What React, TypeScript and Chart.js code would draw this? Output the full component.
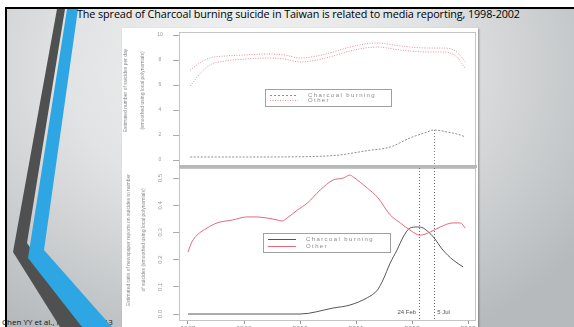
import React, { useEffect, useRef } from "react";
import { Chart, registerables } from "chart.js";
Chart.register(...registerables);

// ---------- data ----------
const xMin = 1997.84;
const xMax = 2003.14;
const yearTicks = [1998, 1999, 2000, 2001, 2002, 2003];

const upperYTicks = [0, 2, 4, 6, 8, 10];
const upperYLabels = ["0", "2", "4", "6", "8", "10"];
const lowerYTicks = [0, 0.1, 0.2, 0.3, 0.4, 0.5];
const lowerYLabels = ["0.0", "0.1", "0.2", "0.3", "0.4", "0.5"];

// upper panel: estimated suicides per day
const otherUpperYears = [1998.04, 1998.21, 1998.39, 1998.66, 1999.02, 1999.41, 1999.73, 2000.0, 2000.3, 2000.59, 2000.89, 2001.38, 2001.79, 2002.27, 2002.55, 2002.8, 2002.95];
const otherUpperHi = [7.2, 7.76, 8.16, 8.32, 8.4, 8.48, 8.4, 8.16, 8.32, 8.64, 9.04, 9.36, 9.12, 8.96, 8.96, 8.64, 7.84];
const otherUpperLo = [5.92, 6.88, 7.6, 7.92, 8.08, 8.16, 8.08, 7.84, 8.0, 8.32, 8.72, 9.04, 8.8, 8.64, 8.64, 8.24, 7.28];

const charcoalUpperYears = [1998.04, 1999.11, 2000.0, 2000.71, 2000.89, 2001.2, 2001.61, 2001.96, 2002.27, 2002.38, 2002.63, 2002.86, 2002.95];
const charcoalUpper = [0.24, 0.24, 0.26, 0.4, 0.52, 0.75, 1.04, 1.76, 2.24, 2.4, 2.24, 2.0, 1.84];

// lower panel: ratio of newspaper reports to suicides
const charcoalLowerYears = [1998.0, 2000.0, 2000.59, 2000.89, 2001.2, 2001.38, 2001.48, 2001.61, 2001.73, 2001.84, 2001.96, 2002.09, 2002.2, 2002.38, 2002.55, 2002.73, 2002.91];
const charcoalLower = [0, 0, 0.022, 0.033, 0.06, 0.088, 0.125, 0.188, 0.235, 0.283, 0.316, 0.32, 0.316, 0.283, 0.235, 0.199, 0.173];

const otherLowerYears = [1998.0, 1998.07, 1998.16, 1998.34, 1998.52, 1998.8, 1999.05, 1999.23, 1999.41, 1999.59, 1999.68, 1999.77, 1999.95, 2000.13, 2000.36, 2000.59, 2000.77, 2000.89, 2000.95, 2001.2, 2001.38, 2001.61, 2001.79, 2001.96, 2002.14, 2002.32, 2002.5, 2002.73, 2002.86, 2002.95];
const otherLower = [0.228, 0.265, 0.29, 0.316, 0.335, 0.346, 0.357, 0.357, 0.353, 0.346, 0.342, 0.353, 0.382, 0.408, 0.456, 0.493, 0.5, 0.511, 0.504, 0.463, 0.43, 0.364, 0.335, 0.309, 0.29, 0.301, 0.32, 0.335, 0.335, 0.316];

const markerFeb24 = 2002.125;
const markerJul5 = 2002.393;
const markerLabels = ["24 Feb", "5 Jul"];
const legendLabels = ["Charcoal burning", "Other"];

const upperTitle = ["Estimated number of suicides per day", "(smoothed using local polynomials)"];
const lowerTitle = ["Estimated ratio of newspaper reports on suicides to number", "of suicides (smoothed using local polynomials)"];

const pts = (xs: number[], ys: number[]) => xs.map((x, i) => ({ x, y: ys[i] }));

const PINK = "#e48e9b";
const RED = "#e26a7c";
const GREY = "#8e8e8e";
const DARK = "#555555";

function drawLegend(ctx: any, x0: number, y0: number, w: number, h: number, entries: any[]) {
  ctx.save();
  ctx.fillStyle = "#ffffff";
  ctx.fillRect(x0, y0, w, h);
  ctx.strokeStyle = "#a0a0a0";
  ctx.lineWidth = 1;
  ctx.setLineDash([]);
  ctx.strokeRect(x0 + 0.5, y0 + 0.5, w, h);
  ctx.font = "6px 'Liberation Sans'";
  (ctx as any).letterSpacing = "1.4px";
  ctx.textBaseline = "middle";
  entries.forEach((e) => {
    ctx.strokeStyle = e.color;
    ctx.setLineDash(e.dash);
    ctx.beginPath();
    ctx.moveTo(x0 + 5, e.y + 0.5);
    ctx.lineTo(x0 + 33, e.y + 0.5);
    ctx.stroke();
    ctx.fillStyle = "#8a8a8a";
    ctx.fillText(e.label, x0 + 43, e.y + 0.5);
  });
  ctx.restore();
}

function drawYTitle(ctx: any, lines: string[], xs: number[], cy: number) {
  ctx.save();
  ctx.font = "5px 'Liberation Sans'";
  ctx.fillStyle = "#8a8a8a";
  ctx.textAlign = "center";
  ctx.textBaseline = "middle";
  lines.forEach((l, i) => {
    ctx.save();
    ctx.translate(xs[i], cy);
    ctx.rotate(-Math.PI / 2);
    ctx.fillText(l, 0, 0);
    ctx.restore();
  });
  ctx.restore();
}

const upperPlugin = {
  id: "upperDecor",
  afterDraw(chart: any) {
    const { ctx, chartArea: a, scales } = chart;
    const y = scales.y;
    const x = scales.x;
    ctx.save();
    ctx.strokeStyle = "#c4c4c4";
    ctx.lineWidth = 1;
    ctx.strokeRect(a.left + 0.5, a.top + 0.5, a.right - a.left - 1, a.bottom - a.top);
    ctx.font = "5px 'Liberation Sans'";
    ctx.fillStyle = "#999";
    ctx.textAlign = "center";
    ctx.textBaseline = "middle";
    upperYTicks.forEach((v, i) => ctx.fillText(upperYLabels[i], a.left - 19, y.getPixelForValue(v)));
    const mx = Math.round(x.getPixelForValue(markerJul5)) + 0.5;
    ctx.strokeStyle = "#8a8a8a";
    ctx.setLineDash([1, 2]);
    ctx.beginPath();
    ctx.moveTo(mx, y.getPixelForValue(2.4));
    ctx.lineTo(mx, a.bottom);
    ctx.stroke();
    ctx.restore();
    drawYTitle(ctx, upperTitle, [4, 21], (a.top + a.bottom) / 2 - 8);
    drawLegend(ctx, a.left + 86, a.top + 57, 126, 17, [
      { label: legendLabels[0], color: GREY, dash: [2, 2], y: a.top + 63 },
      { label: legendLabels[1], color: PINK, dash: [1, 1.5], y: a.top + 68 },
    ]);
  },
};

const lowerPlugin = {
  id: "lowerDecor",
  afterDraw(chart: any) {
    const { ctx, chartArea: a, scales } = chart;
    const y = scales.y;
    const x = scales.x;
    ctx.save();
    ctx.strokeStyle = "#c4c4c4";
    ctx.lineWidth = 1;
    ctx.strokeRect(a.left + 0.5, a.top + 0.5, a.right - a.left - 1, a.bottom - a.top);
    ctx.font = "6px 'Liberation Sans'";
    ctx.fillStyle = "#999";
    ctx.textAlign = "center";
    ctx.textBaseline = "middle";
    lowerYTicks.forEach((v, i) => {
      ctx.save();
      ctx.translate(a.left - 19, y.getPixelForValue(v));
      ctx.rotate(-Math.PI / 2);
      ctx.fillText(lowerYLabels[i], 0, 0);
      ctx.restore();
    });
    ctx.strokeStyle = "#6a6a6a";
    ctx.setLineDash([1, 2]);
    [markerFeb24, markerJul5].forEach((m) => {
      const mx = Math.round(x.getPixelForValue(m)) + 0.5;
      ctx.beginPath();
      ctx.moveTo(mx, a.top);
      ctx.lineTo(mx, a.bottom);
      ctx.stroke();
    });
    ctx.setLineDash([]);
    ctx.font = "6px 'Liberation Sans'";
    ctx.fillStyle = "#555";
    ctx.textAlign = "right";
    ctx.fillText(markerLabels[0], x.getPixelForValue(markerFeb24) - 3, a.bottom - 8);
    ctx.textAlign = "left";
    ctx.fillText(markerLabels[1], x.getPixelForValue(markerJul5) + 3, a.bottom - 8);
    ctx.restore();
    drawYTitle(ctx, lowerTitle, [7, 22], (a.top + a.bottom) / 2 - 4);
    drawLegend(ctx, a.left + 84, a.top + 65, 127, 19, [
      { label: legendLabels[0], color: DARK, dash: [], y: a.top + 71 },
      { label: legendLabels[1], color: RED, dash: [], y: a.top + 78 },
    ]);
  },
};

function xScale(showLabels: boolean) {
  return {
    type: "linear",
    min: xMin,
    max: xMax,
    display: showLabels,
    afterBuildTicks: (s: any) => {
      s.ticks = yearTicks.map((v) => ({ value: v }));
    },
    afterFit: (s: any) => {
      if (showLabels) s.height = 21;
    },
    border: { display: false },
    grid: { drawOnChartArea: false, drawTicks: true, tickLength: 4, color: "#999" },
    ticks: {
      padding: 1,
      color: "#888",
      font: { size: 7, family: "'Liberation Sans'" },
      maxRotation: 0,
      callback: (v: any) => String(v),
    },
  };
}

function yScale(min: number, max: number, tickVals: number[]) {
  return {
    type: "linear",
    min,
    max,
    afterBuildTicks: (s: any) => {
      s.ticks = tickVals.map((v) => ({ value: v }));
    },
    afterFit: (s: any) => {
      s.width = 57;
    },
    border: { display: false },
    grid: { drawOnChartArea: false, drawTicks: true, tickLength: 6, color: "#aaa" },
    ticks: { display: false },
  };
}

const lineDs = (data: any[], color: string, dash: number[], width = 1) => ({
  data,
  borderColor: color,
  borderWidth: width,
  borderDash: dash,
  pointRadius: 0,
  fill: false,
  cubicInterpolationMode: "monotone",
});

function ChartCanvas({ config, style }: { config: any; style: any }) {
  const ref = useRef<HTMLCanvasElement | null>(null);
  useEffect(() => {
    if (!ref.current) return;
    const c = new Chart(ref.current, config);
    return () => c.destroy();
  }, []);
  return <canvas ref={ref} width={style.width} height={style.height} style={{ position: "absolute", ...style }} />;
}

export default function App() {
  const upperConfig = {
    type: "line",
    data: {
      datasets: [
        lineDs(pts(otherUpperYears, otherUpperHi), PINK, [1, 1.5]),
        lineDs(pts(otherUpperYears, otherUpperLo), PINK, [1, 1.5]),
        lineDs(pts(charcoalUpperYears, charcoalUpper), GREY, [2, 1.5]),
      ],
    },
    options: {
      animation: false,
      responsive: false,
      layout: { padding: { left: 0, right: 2, top: 4, bottom: 3 } },
      plugins: { legend: { display: false }, tooltip: { enabled: false } },
      scales: { x: xScale(false), y: yScale(-0.4, 10.24, upperYTicks) },
    },
    plugins: [upperPlugin],
  };
  const lowerConfig = {
    type: "line",
    data: {
      datasets: [
        lineDs(pts(otherLowerYears, otherLower), RED, []),
        lineDs(pts(charcoalLowerYears, charcoalLower), DARK, []),
      ],
    },
    options: {
      animation: false,
      responsive: false,
      layout: { padding: { left: 0, right: 2, top: 2, bottom: 0 } },
      plugins: { legend: { display: false }, tooltip: { enabled: false } },
      scales: { x: xScale(true), y: yScale(-0.022, 0.537, lowerYTicks) },
    },
    plugins: [lowerPlugin],
  };

  return (
    <div style={{ position: "relative", width: 574, height: 327, overflow: "hidden", background: "#fff" }}>
      <style>{"body{margin:0}"}</style>
      <div
        style={{
          position: "absolute",
          left: 5,
          top: 7,
          width: 580,
          height: 340,
          borderLeft: "2px solid #000",
          borderTop: "2px solid #000",
          background: "radial-gradient(ellipse 70% 90% at 42% 18%, #f3f3f3 0%, #e2e3e4 45%, #c6c9cb 80%, #b6babd 100%)",
        }}
      />
      <div
        style={{
          position: "absolute",
          left: 2,
          top: 316,
          fontFamily: "'Open Sans', sans-serif",
          fontSize: 8,
          color: "#111",
          whiteSpace: "nowrap",
        }}
      >
        Chen YY et al., PLoS One 2013
      </div>
      <svg width={574} height={327} style={{ position: "absolute", left: 0, top: 0 }}>
        <polygon points="57,9 65,9 27,243 84,327 60,327 13,252" fill="#505050" />
        <polygon points="67,9 78,9 44,250 112,327 82,327 28,258" fill="#2ea6e4" />
      </svg>
      <div
        style={{
          position: "absolute",
          left: 77,
          top: 6,
          fontFamily: "'Open Sans', sans-serif",
          fontSize: 10.8,
          color: "#000",
          whiteSpace: "nowrap",
          letterSpacing: "-0.1px",
        }}
      >
        The spread of Charcoal burning suicide in Taiwan is related to media reporting, 1998-2002
      </div>
      <div
        style={{
          position: "absolute",
          left: 122,
          top: 28,
          width: 356,
          height: 320,
          background: "#fff",
          boxShadow: "1px 1px 2px rgba(0,0,0,0.35)",
        }}
      />
      <ChartCanvas config={upperConfig} style={{ left: 122, top: 28, width: 356, height: 140 }} />
      <ChartCanvas config={lowerConfig} style={{ left: 122, top: 166, width: 356, height: 175 }} />
      <div style={{ position: "absolute", left: 179, top: 165, width: 298, height: 3, background: "#b8b8b8" }} />
    </div>
  );
}
